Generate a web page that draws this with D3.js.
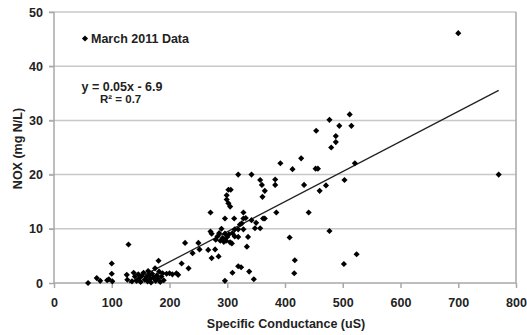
<!DOCTYPE html>
<html>
<head>
<meta charset="utf-8">
<script src="https://cdn.jsdelivr.net/npm/d3@7"></script>
<style>
  body { margin: 0; background: #fff; }
  text { font-family: "Liberation Sans", Arial, sans-serif; font-weight: bold; fill: #222; }
</style>
</head>
<body>
<svg width="527" height="335"></svg>
<script>
// March 2011 samples: specific conductance (uS) vs NOX (mg N/L)
const conductance = [
  59, 74, 80, 92, 95, 100, 100, 101, 129, 126, 127,
  135, 138, 140, 143, 146, 148, 150, 152, 155, 157, 160, 162, 163, 165, 167, 168, 170, 172, 175, 176,
  178, 180, 181, 182, 184, 186, 188, 190, 195, 200, 205, 212, 215,
  221, 233, 227, 240, 250, 252, 267, 273, 279, 285, 271, 271, 273,
  280, 283, 286, 288, 290, 292, 294, 296, 298, 300, 303, 305, 296, 308, 309, 313, 319, 313, 319, 328,
  296, 299, 302, 306, 299, 302, 305, 312, 296, 309,
  319, 342, 319, 324, 328, 328, 325, 322, 332, 334, 336, 338, 346, 342, 350, 348, 357, 362, 365, 357, 360, 365, 361,
  383, 383, 385, 392, 413, 428, 433, 441, 454, 453, 457, 460, 471, 477, 480, 488, 488, 494, 503, 512, 515, 521,
  408, 477, 417, 416, 502, 524,
  700, 770
];
const nox = [
  0.0, 0.9, 0.4, 0.5, 0.7, 3.6, 1.7, 0.3, 7.1, 1.5, 0.6,
  0.3, 1.9, 1.2, 0.4, 1.6, 0.9, 0.2, 1.3, 1.9, 0.6, 1.1, 0.3, 2.2, 1.5, 0.8, 0.1, 1.7, 1.0, 2.7, 0.4,
  1.4, 0.8, 4.1, 2.1, 0.2, 1.2, 1.8, 0.5, 1.7, 1.8, 1.6, 1.8, 1.5,
  3.6, 2.7, 7.4, 5.5, 7.4, 6.2, 6.1, 4.6, 6.2, 4.9, 13.0, 9.5, 9.1,
  8.0, 8.6, 9.2, 7.8, 10.0, 8.3, 7.6, 9.1, 7.8, 8.5, 9.0, 7.5, 7.9, 7.3, 9.2, 8.6, 8.5, 9.9, 9.9, 9.9,
  11.9, 16.2, 17.2, 17.2, 15.4, 14.7, 14.1, 11.9, 0.4, 1.9,
  20.0, 20.0, 3.1, 2.9, 13.0, 11.9, 11.0, 10.8, 12.0, 6.7, 8.5, 2.1, 0.7, 11.6, 11.1, 10.1, 10.1, 11.9, 11.9, 19.0, 18.1, 17.0, 15.9,
  19.1, 18.1, 13.0, 22.1, 21.0, 23.0, 18.1, 13.0, 28.1, 21.1, 21.1, 17.0, 18.0, 30.1, 25.0, 27.1, 26.0, 29.0, 19.0, 31.1, 29.0, 22.1,
  8.4, 9.6, 4.2, 1.8, 3.5, 5.3,
  46.1, 20.0
];
const xTicks = [0, 100, 200, 300, 400, 500, 600, 700, 800];
const yTicks = [0, 10, 20, 30, 40, 50];
// trendline as drawn in the picture
const trendSlope = 0.0555;
const trendIntercept = -7.2;
const trendRange = [130, 770];

const svg = d3.select("svg");
const mLeft = 54, mTop = 12, w = 462, h = 271;

const x = d3.scaleLinear().domain([0, 800]).range([mLeft, mLeft + w]);
const y = d3.scaleLinear().domain([0, 50]).range([mTop + h, mTop]);

// grid
svg.append("g")
  .selectAll("line")
  .data(yTicks.filter(d => d > 0))
  .enter().append("line")
  .attr("x1", mLeft - 5).attr("x2", mLeft + w)
  .attr("y1", d => y(d)).attr("y2", d => y(d))
  .attr("stroke", "#c8c8c8").attr("stroke-width", 1.5);

// frame: left, bottom, right
svg.append("path")
  .attr("d", `M${mLeft},${mTop}V${mTop + h}H${mLeft + w}V${mTop}`)
  .attr("fill", "none").attr("stroke", "#a8a8a8").attr("stroke-width", 1.5);

const xAxis = svg.append("g")
  .attr("transform", `translate(0,${mTop + h})`)
  .call(d3.axisBottom(x).tickValues(xTicks).tickSize(5).tickPadding(10));
const yAxis = svg.append("g")
  .attr("transform", `translate(${mLeft},0)`)
  .call(d3.axisLeft(y).tickValues(yTicks).tickSize(5).tickPadding(6));
[xAxis, yAxis].forEach(a => {
  a.select(".domain").remove();
  a.selectAll(".tick line").attr("stroke", "#a8a8a8").attr("stroke-width", 1.5);
  a.selectAll(".tick text").style("font-size", "12.5px").attr("fill", "#333");
});

// trend
svg.append("line")
  .attr("x1", x(trendRange[0])).attr("y1", y(trendSlope * trendRange[0] + trendIntercept))
  .attr("x2", x(trendRange[1])).attr("y2", y(trendSlope * trendRange[1] + trendIntercept))
  .attr("stroke", "#222").attr("stroke-width", 1.3);

const diamond = d3.symbol().type(d3.symbolDiamond2).size(24);
svg.append("g")
  .selectAll("path")
  .data(conductance.map((c, i) => [c, nox[i]]))
  .enter().append("path")
  .attr("transform", d => `translate(${x(d[0])},${y(d[1])})`)
  .attr("d", diamond)
  .attr("fill", "#000");

// legend
svg.append("path").attr("transform", "translate(85,38.5)").attr("d", diamond).attr("fill", "#000");
svg.append("text").attr("x", 91).attr("y", 42.8).style("font-size", "12.5px").text("March 2011 Data");

// equation
svg.append("text").attr("x", 81.5).attr("y", 90.5).style("font-size", "12.5px").text("y = 0.05x - 6.9");
svg.append("text").attr("x", 100).attr("y", 103.3).style("font-size", "11.5px").text("R² = 0.7");

// titles
svg.append("text").attr("x", 286).attr("y", 328).attr("text-anchor", "middle")
  .style("font-size", "12.5px").text("Specific Conductance (uS)");
svg.append("text").attr("transform", "translate(21.5,148.5) rotate(-90)").attr("text-anchor", "middle")
  .style("font-size", "12.5px").text("NOX (mg N/L)");
</script>
</body>
</html>
